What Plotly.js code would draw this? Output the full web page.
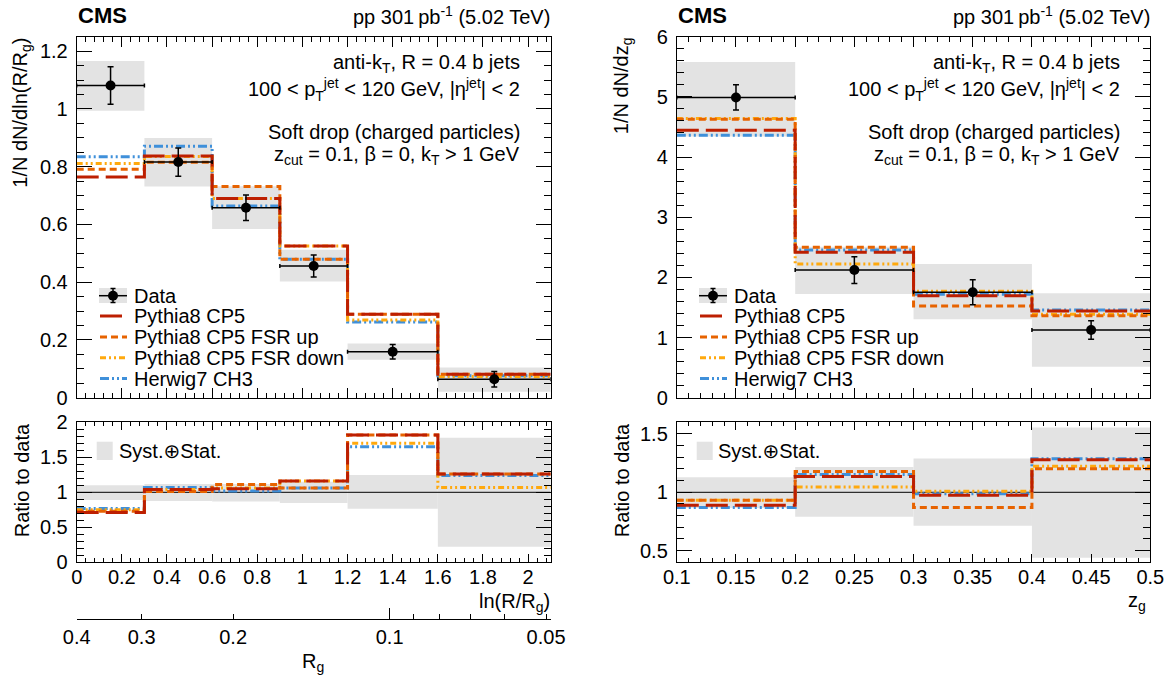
<!DOCTYPE html>
<html><head><meta charset="utf-8">
<script src="https://cdn.plot.ly/plotly-3.0.1.min.js"></script>
<style>body{margin:0;background:#fff}#chart{width:1174px;height:675px}</style>
</head><body><div id="chart"></div>
<script>
// ---------------- data: left panel, ln(R/Rg) ----------------
const rgEdges = [0, 0.3, 0.6, 0.9, 1.2, 1.6, 2.1];
const rgData = [1.081, 0.816, 0.658, 0.456, 0.159, 0.064];
const rgDataErr = [0.065, 0.049, 0.044, 0.038, 0.025, 0.027];
const rgSystLo = [0.994, 0.731, 0.584, 0.402, 0.131, 0.021];
const rgSystHi = [1.166, 0.899, 0.732, 0.512, 0.188, 0.105];
const rgPythia = [0.764, 0.837, 0.690, 0.525, 0.289, 0.081];
const rgFsrUp = [0.791, 0.815, 0.731, 0.479, 0.289, 0.081];
const rgFsrDown = [0.811, 0.835, 0.690, 0.525, 0.269, 0.073];
const rgHerwig = [0.834, 0.871, 0.664, 0.479, 0.262, 0.076];
const rgRatioBandLo = [0.89, 0.876, 0.87, 0.848, 0.766, 0.223];
const rgRatioBandHi = [1.10, 1.118, 1.12, 1.15, 1.247, 1.78];
const rgRatioPythia = [0.71, 1.04, 1.05, 1.16, 1.82, 1.26];
const rgRatioFsrUp = [0.73, 1.01, 1.11, 1.06, 1.82, 1.26];
const rgRatioFsrDown = [0.75, 1.04, 1.06, 1.16, 1.70, 1.07];
const rgRatioHerwig = [0.77, 1.07, 1.02, 1.06, 1.65, 1.24];
// secondary R_g axis
const jetR = 0.4;
const rgAxisValues = [0.4, 0.3, 0.2, 0.1, 0.05];
const rgAxisLabels = ['0.4', '0.3', '0.2', '0.1', '0.05'];
const rgAxisMinor = [0.09, 0.08, 0.07, 0.06];
const rgAxisDecade = [0.1];

// ---------------- data: right panel, z_g ----------------
const zgEdges = [0.1, 0.2, 0.3, 0.4, 0.5];
const zgData = [4.99, 2.122, 1.752, 1.125];
const zgDataErr = [0.21, 0.222, 0.208, 0.155];
const zgSystLo = [4.34, 1.723, 1.303, 0.515];
const zgSystHi = [5.58, 2.51, 2.222, 1.735];
const zgPythia = [4.444, 2.416, 1.695, 1.441];
const zgFsrUp = [4.627, 2.50, 1.524, 1.363];
const zgFsrDown = [4.64, 2.222, 1.768, 1.386];
const zgHerwig = [4.36, 2.455, 1.718, 1.457];
const zgRatioBandLo = [0.866, 0.79, 0.713, 0.44];
const zgRatioBandHi = [1.128, 1.216, 1.29, 1.556];
const zgRatioPythia = [0.889, 1.136, 0.974, 1.278];
const zgRatioFsrUp = [0.932, 1.179, 0.869, 1.202];
const zgRatioFsrDown = [0.932, 1.045, 1.008, 1.224];
const zgRatioHerwig = [0.869, 1.153, 0.988, 1.287];

const modelNames = ['Pythia8 CP5', 'Pythia8 CP5 FSR up', 'Pythia8 CP5 FSR down', 'Herwig7 CH3'];

// ---------------- styles ----------------
const FONT = 'Liberation Sans, Arial, Helvetica, DejaVu Sans, sans-serif';
const W = 1174, H = 675;
const STY = {
  pythia: {color: '#bd1f01', dash: '22px,7px'},
  fsrUp: {color: '#e76300', dash: '7px,4px'},
  fsrDown: {color: '#ffa90e', dash: '6px,3px,2px,3px,2px,3px'},
  herwig: {color: '#3f90da', dash: '9px,3px,2px,3px,2px,3px'}
};
const BAND = '#e3e3e3';

function centers(e) { return e.slice(0, -1).map((v, i) => (v + e[i + 1]) / 2); }
function widths(e) { return e.slice(0, -1).map((v, i) => e[i + 1] - v); }
function stepY(v) { return v.concat([v[v.length - 1]]); }

function band(edges, lo, hi, xa, ya) {
  return {type: 'bar', x: centers(edges), width: widths(edges), base: lo,
    y: hi.map((h, i) => h - lo[i]), xaxis: xa, yaxis: ya,
    marker: {color: BAND, line: {width: 0}}, hoverinfo: 'skip', showlegend: false};
}
function step(edges, vals, sty, xa, ya, name) {
  return {type: 'scatter', mode: 'lines', x: edges, y: stepY(vals), name: name,
    xaxis: xa, yaxis: ya, line: {shape: 'hv', color: sty.color, width: 3, dash: sty.dash},
    hoverinfo: 'skip', showlegend: false};
}
function dataPts(edges, vals, err, xa, ya) {
  return {type: 'scatter', mode: 'markers', x: centers(edges), y: vals, xaxis: xa, yaxis: ya,
    marker: {color: 'black', size: 10},
    error_y: {type: 'data', array: err, color: 'black', thickness: 1.5, width: 3},
    error_x: {type: 'data', array: widths(edges).map(w => w / 2), color: 'black', thickness: 1.5, width: 2},
    hoverinfo: 'skip', showlegend: false};
}
function unity(edges, xa, ya) {
  return {type: 'scatter', mode: 'lines', x: [edges[0], edges[edges.length - 1]], y: [1, 1],
    xaxis: xa, yaxis: ya, line: {color: 'black', width: 1}, hoverinfo: 'skip', showlegend: false};
}

const traces = [
  // left top
  band(rgEdges, rgSystLo, rgSystHi, 'x', 'y'),
  step(rgEdges, rgHerwig, STY.herwig, 'x', 'y', modelNames[3]),
  step(rgEdges, rgFsrDown, STY.fsrDown, 'x', 'y', modelNames[2]),
  step(rgEdges, rgFsrUp, STY.fsrUp, 'x', 'y', modelNames[1]),
  step(rgEdges, rgPythia, STY.pythia, 'x', 'y', modelNames[0]),
  dataPts(rgEdges, rgData, rgDataErr, 'x', 'y'),
  // left ratio
  band(rgEdges, rgRatioBandLo, rgRatioBandHi, 'x3', 'y3'),
  unity(rgEdges, 'x3', 'y3'),
  step(rgEdges, rgRatioHerwig, STY.herwig, 'x3', 'y3', modelNames[3]),
  step(rgEdges, rgRatioFsrDown, STY.fsrDown, 'x3', 'y3', modelNames[2]),
  step(rgEdges, rgRatioFsrUp, STY.fsrUp, 'x3', 'y3', modelNames[1]),
  step(rgEdges, rgRatioPythia, STY.pythia, 'x3', 'y3', modelNames[0]),
  // right top
  band(zgEdges, zgSystLo, zgSystHi, 'x2', 'y2'),
  step(zgEdges, zgHerwig, STY.herwig, 'x2', 'y2', modelNames[3]),
  step(zgEdges, zgFsrDown, STY.fsrDown, 'x2', 'y2', modelNames[2]),
  step(zgEdges, zgFsrUp, STY.fsrUp, 'x2', 'y2', modelNames[1]),
  step(zgEdges, zgPythia, STY.pythia, 'x2', 'y2', modelNames[0]),
  dataPts(zgEdges, zgData, zgDataErr, 'x2', 'y2'),
  // right ratio
  band(zgEdges, zgRatioBandLo, zgRatioBandHi, 'x4', 'y4'),
  unity(zgEdges, 'x4', 'y4'),
  step(zgEdges, zgRatioHerwig, STY.herwig, 'x4', 'y4', modelNames[3]),
  step(zgEdges, zgRatioFsrDown, STY.fsrDown, 'x4', 'y4', modelNames[2]),
  step(zgEdges, zgRatioFsrUp, STY.fsrUp, 'x4', 'y4', modelNames[1]),
  step(zgEdges, zgRatioPythia, STY.pythia, 'x4', 'y4', modelNames[0]),
  // placeholders so the free R_g axes are drawn
  {type: 'scatter', mode: 'markers', x: [], y: [], xaxis: 'x5', yaxis: 'y3', hoverinfo: 'skip', showlegend: false},
  {type: 'scatter', mode: 'markers', x: [], y: [], xaxis: 'x6', yaxis: 'y3', hoverinfo: 'skip', showlegend: false}
];

// ---------------- geometry (pixels) ----------------
const LX0 = 76.7, LX1 = 550.7, RX0 = 676.8, RX1 = 1150.3;
const TY0 = 36.7, TY1 = 397.7, BY0 = 422.3, BY1 = 562.3, RGY = 619.3;
const px = v => v / W, py = v => 1 - v / H;

const tickFont = {family: FONT, size: 20, color: 'black'};
function ax(o) {
  return Object.assign({
    showline: true, linecolor: 'black', linewidth: 1, mirror: 'ticks',
    ticks: 'inside', tickcolor: 'black', tickwidth: 1,
    showgrid: false, zeroline: false, tickfont: tickFont, fixedrange: true,
    ticklabelstandoff: 4
  }, o);
}

const layout = {
  width: W, height: H, margin: {l: 0, r: 0, t: 0, b: 0},
  paper_bgcolor: 'white', plot_bgcolor: 'rgba(0,0,0,0)',
  barmode: 'overlay', showlegend: false,
  font: {family: FONT, size: 20, color: 'black'},
  xaxis: ax({domain: [px(LX0), px(LX1)], anchor: 'y', range: [0, 2.1], tick0: 0, dtick: 0.2, ticklen: 10,
    showticklabels: false, minor: {ticks: 'inside', ticklen: 5, tick0: 0, dtick: 0.04, tickcolor: 'black', showgrid: false}}),
  yaxis: ax({domain: [py(TY1), py(TY0)], anchor: 'x', range: [0, 1.25], tick0: 0, dtick: 0.2, ticklen: 15,
    minor: {ticks: 'inside', ticklen: 7, tick0: 0, dtick: 0.05, tickcolor: 'black', showgrid: false}}),
  xaxis3: ax({domain: [px(LX0), px(LX1)], anchor: 'y3', range: [0, 2.1], tick0: 0, dtick: 0.2, ticklen: 8,
    ticklabelstandoff: -3,
    minor: {ticks: 'inside', ticklen: 4, tick0: 0, dtick: 0.04, tickcolor: 'black', showgrid: false}}),
  yaxis3: ax({domain: [py(BY1), py(BY0)], anchor: 'x3', range: [0, 2], tick0: 0, dtick: 0.5, ticklen: 15,
    minor: {ticks: 'inside', ticklen: 7, tick0: 0, dtick: 0.1, tickcolor: 'black', showgrid: false}}),
  xaxis2: ax({domain: [px(RX0), px(RX1)], anchor: 'y2', range: [0.1, 0.5], tick0: 0, dtick: 0.05, ticklen: 10,
    showticklabels: false, minor: {ticks: 'inside', ticklen: 5, tick0: 0, dtick: 0.01, tickcolor: 'black', showgrid: false}}),
  yaxis2: ax({domain: [py(TY1), py(TY0)], anchor: 'x2', range: [0, 6], tick0: 0, dtick: 1, ticklen: 15,
    minor: {ticks: 'inside', ticklen: 7, tick0: 0, dtick: 0.2, tickcolor: 'black', showgrid: false}}),
  xaxis4: ax({domain: [px(RX0), px(RX1)], anchor: 'y4', range: [0.1, 0.5], tick0: 0, dtick: 0.05, ticklen: 8,
    ticklabelstandoff: -3,
    minor: {ticks: 'inside', ticklen: 4, tick0: 0, dtick: 0.01, tickcolor: 'black', showgrid: false}}),
  yaxis4: ax({domain: [py(BY1), py(BY0)], anchor: 'x4', range: [0.4, 1.6], tick0: 0, dtick: 0.5, ticklen: 15,
    minor: {ticks: 'inside', ticklen: 7, tick0: 0, dtick: 0.1, tickcolor: 'black', showgrid: false}}),
  xaxis5: {domain: [px(LX0), px(LX1)], anchor: 'free', position: py(RGY), range: [0, 2.1],
    showline: true, linecolor: 'black', linewidth: 1, showgrid: false, zeroline: false, fixedrange: true,
    tickmode: 'array', tickvals: rgAxisValues.map(v => Math.log(jetR / v)), ticktext: rgAxisLabels,
    ticks: 'inside', ticklen: 5, tickcolor: 'black', tickwidth: 1, tickfont: tickFont, ticklabelstandoff: 0,
    minor: {tickmode: 'array', tickvals: rgAxisMinor.map(v => Math.log(jetR / v)), ticks: 'inside', ticklen: 5, tickcolor: 'black', showgrid: false}},
  xaxis6: {domain: [px(LX0), px(LX1)], anchor: 'free', position: py(RGY), range: [0, 2.1],
    showline: false, showgrid: false, zeroline: false, fixedrange: true, showticklabels: false,
    tickmode: 'array', tickvals: rgAxisDecade.map(v => Math.log(jetR / v)),
    ticks: 'inside', ticklen: 11, tickcolor: 'black', tickwidth: 1},
  shapes: [],
  annotations: []
};

function ann(text, x, y, xanchor, yanchor, extra) {
  layout.annotations.push(Object.assign({text: text, xref: 'paper', yref: 'paper', x: px(x), y: py(y),
    xanchor: xanchor, yanchor: yanchor, showarrow: false, borderpad: 0,
    font: {family: FONT, size: 20, color: 'black'}}, extra || {}));
}

// panel texts, both panels (right panel is offset by 600 px)
[0, 600].forEach(off => {
  ann('<b>CMS</b>', LX0 + off, 15, 'left', 'middle', {font: {family: FONT, size: 22, color: 'black'}});
  ann('pp 301\u2009pb<sup>-1</sup> (5.02 TeV)', LX1 + off, 15, 'right', 'middle');
  ann('anti-k<sub>T</sub>, R = 0.4 b jets', 520.7 + off, 63.3, 'right', 'middle');
  ann('100 &lt; p<sub>T</sub><sup>jet</sup> &lt; 120 GeV, |η<sup>jet</sup>| &lt; 2', 520.7 + off, 90, 'right', 'middle');
  ann('Soft drop (charged particles)', 520.7 + off, 132.3, 'right', 'middle');
  ann('z<sub>cut</sub> = 0.1, β = 0, k<sub>T</sub> &gt; 1 GeV', 520.7 + off, 156, 'right', 'middle');
  ann('Ratio to data', 22 + off, BY0, 'center', 'top', {textangle: -90});

  // main legend
  const rows = [295.7, 316, 337, 357.8, 378.5];
  const sx0 = 99 + off, sx1 = 127 + off, sxc = 113 + off;
  layout.shapes.push({type: 'rect', xref: 'paper', yref: 'paper', x0: px(sx0), x1: px(sx1), y0: py(303), y1: py(288),
    fillcolor: BAND, line: {width: 0}});
  layout.shapes.push({type: 'line', xref: 'paper', yref: 'paper', x0: px(sx0), x1: px(sx1), y0: py(rows[0]), y1: py(rows[0]),
    line: {color: 'black', width: 1.5}});
  layout.shapes.push({type: 'line', xref: 'paper', yref: 'paper', x0: px(sxc), x1: px(sxc), y0: py(288.5), y1: py(302.5),
    line: {color: 'black', width: 1.5}});
  [288.5, 302.5].forEach(cy => layout.shapes.push({type: 'line', xref: 'paper', yref: 'paper',
    x0: px(sxc - 2.5), x1: px(sxc + 2.5), y0: py(cy), y1: py(cy), line: {color: 'black', width: 1.5}}));
  layout.shapes.push({type: 'circle', xref: 'paper', yref: 'paper', x0: px(sxc - 5), x1: px(sxc + 5),
    y0: py(rows[0] + 5), y1: py(rows[0] - 5), fillcolor: 'black', line: {color: 'black', width: 0}});
  ann('Data', 132.5 + off, rows[0], 'left', 'middle');
  [STY.pythia, STY.fsrUp, STY.fsrDown, STY.herwig].forEach((s, i) => {
    layout.shapes.push({type: 'line', xref: 'paper', yref: 'paper', x0: px(sx0 + 1), x1: px(sx1), y0: py(rows[i + 1]), y1: py(rows[i + 1]),
      line: {color: s.color, width: 3, dash: s.dash}});
    ann(modelNames[i], 132.5 + off, rows[i + 1], 'left', 'middle');
  });

  // ratio legend
  layout.shapes.push({type: 'rect', xref: 'paper', yref: 'paper', x0: px(96.7 + off), x1: px(112.7 + off), y0: py(460), y1: py(441.7),
    fillcolor: BAND, line: {width: 0}});
  ann('Syst.⊕Stat.', 117.5 + off, 450.5, 'left', 'middle');
});

ann('1/N dN/dln(R/R<sub>g</sub>)', 22, TY0, 'center', 'top', {textangle: -90});
ann('1/N dN/dz<sub>g</sub>', 622, TY0, 'center', 'top', {textangle: -90});
ann('ln(R/R<sub>g</sub>)', LX1, 602, 'right', 'middle');
ann('R<sub>g</sub>', 313, 662, 'center', 'middle');
ann('z<sub>g</sub>', 1147, 601, 'right', 'middle');

Plotly.newPlot('chart', traces, layout, {staticPlot: true, displayModeBar: false});
</script>
</body></html>
